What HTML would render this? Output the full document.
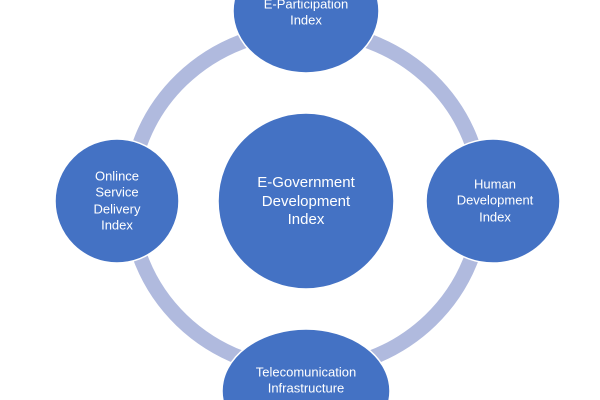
<!DOCTYPE html>
<html><head><meta charset="utf-8"><style>
html,body{margin:0;padding:0;background:#fff;width:600px;height:400px;overflow:hidden}
text{font-family:"Liberation Sans",sans-serif;font-size:13px;fill:#fff;text-anchor:middle;dominant-baseline:middle}
</style></head><body>
<svg width="600" height="400" viewBox="0 0 600 400">
<ellipse cx="306" cy="200" rx="176" ry="170" fill="none" stroke="#b0bade" stroke-width="15"/>
<g fill="#4472c4" stroke="#fff" stroke-width="1.5">
<ellipse cx="306" cy="201" rx="88" ry="88"/>
<ellipse cx="306" cy="11" rx="73" ry="62"/>
<ellipse cx="117" cy="201" rx="62" ry="62"/>
<ellipse cx="493" cy="201" rx="67" ry="62"/>
<ellipse cx="306" cy="391" rx="84" ry="62"/>
</g>
<text x="306" y="183" font-size="15" style="font-size:15px">E-Government</text>
<text x="306" y="202" style="font-size:15px">Development</text>
<text x="306" y="220" style="font-size:15px">Index</text>
<text x="306" y="5">E-Participation</text>
<text x="306" y="21">Index</text>
<text x="117" y="177">Onlince</text>
<text x="117" y="193">Service</text>
<text x="117" y="210">Delivery</text>
<text x="117" y="226">Index</text>
<text x="495" y="185">Human</text>
<text x="495" y="201">Development</text>
<text x="495" y="218">Index</text>
<text x="306" y="373">Telecomunication</text>
<text x="306" y="389">Infrastructure</text>
</svg>
</body></html>
